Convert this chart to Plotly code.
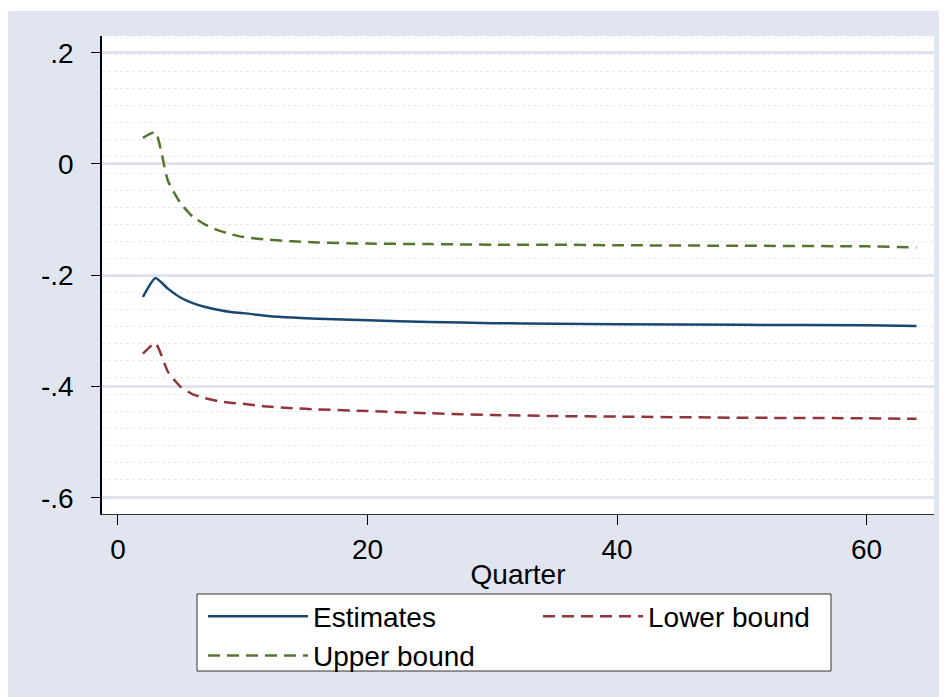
import plotly.graph_objects as go

quarter = [2, 3, 4, 5, 6, 7, 8, 9, 10, 12, 14, 16, 20, 25, 30, 35, 40, 50, 60, 64]
estimates = [-0.239, -0.205, -0.224, -0.240, -0.250, -0.257, -0.262, -0.266, -0.268, -0.273,
             -0.276, -0.278, -0.281, -0.284, -0.286, -0.287, -0.288, -0.289, -0.290, -0.291]
lower_bound = [-0.341, -0.322, -0.373, -0.400, -0.414, -0.421, -0.426, -0.429, -0.431, -0.436,
               -0.439, -0.441, -0.444, -0.448, -0.451, -0.453, -0.454, -0.456, -0.457, -0.458]
upper_bound = [0.047, 0.057, -0.030, -0.070, -0.095, -0.109, -0.119, -0.126, -0.131, -0.136,
               -0.139, -0.141, -0.143, -0.144, -0.145, -0.145, -0.146, -0.147, -0.148, -0.150]

x_ticks = [0, 20, 40, 60]
y_ticks = [0.2, 0, -0.2, -0.4, -0.6]
y_tick_text = [".2", "0", "-.2", "-.4", "-.6"]

FONT = "Liberation Sans, Arial, sans-serif"
BG = "#e0e5ef"
FS = 28

fig = go.Figure()
fig.add_trace(go.Scatter(x=quarter, y=estimates, mode="lines", name="Estimates",
                         line=dict(color="#1a476f", width=2.5, shape="spline", smoothing=0.5)))
fig.add_trace(go.Scatter(x=quarter, y=lower_bound, mode="lines", name="Lower bound",
                         line=dict(color="#90353b", width=2.5, dash="12px,7px",
                                   shape="spline", smoothing=0.5)))
fig.add_trace(go.Scatter(x=quarter, y=upper_bound, mode="lines", name="Upper bound",
                         line=dict(color="#55752f", width=2.5, dash="12px,7px",
                                   shape="spline", smoothing=0.5)))

fig.update_layout(
    width=947, height=697,
    margin=dict(l=94, r=21, t=28, b=191, autoexpand=False),
    paper_bgcolor="white", plot_bgcolor="white",
    font=dict(family=FONT, size=FS, color="black"),
    showlegend=True,
    legend=dict(
        orientation="h", x=0.1214, y=-0.162, xanchor="left", yanchor="top",
        bgcolor="rgba(0,0,0,0)", borderwidth=0,
        font=dict(family=FONT, size=FS), entrywidth=220, itemwidth=100,
        tracegroupgap=0,
    ),
    xaxis=dict(
        range=[-1.28, 65.4], tickvals=x_ticks, showgrid=False, zeroline=False,
        ticks="outside", ticklen=10, tickcolor="black", tickwidth=1,
        showline=True, linecolor="#333333", linewidth=1, automargin=False,
        title=dict(text="Quarter", standoff=0, font=dict(size=FS)),
        tickfont=dict(size=FS),
    ),
    yaxis=dict(
        range=[-0.629, 0.230], tickvals=y_ticks, ticktext=y_tick_text,
        showgrid=True, gridcolor="#dfe3ed", gridwidth=2.5, zeroline=False,
        ticks="outside", ticklen=9, tickcolor="black", tickwidth=1,
        showline=True, linecolor="black", linewidth=1.5, automargin=False,
        ticklabelstandoff=12, tickfont=dict(size=FS),
        minor=dict(tick0=0.0126, dtick=0.03055, showgrid=True, gridcolor="#e6e9f0",
                   griddash="dot", gridwidth=1, ticks=""),
    ),
    shapes=[
        # outer bluish-gray graph region
        dict(type="rect", xref="paper", yref="paper", x0=-0.113, x1=1.03, y0=-0.41, y1=1.0523,
             fillcolor=BG, line=dict(width=0), layer="below"),
        # white plot region
        dict(type="rect", xref="paper", yref="paper", x0=0, x1=1, y0=0, y1=1,
             fillcolor="white", line=dict(width=0), layer="below"),
        # legend box
        dict(type="rect", xref="paper", yref="paper", x0=0.1142, x1=0.8762, y0=-0.3285, y1=-0.1674,
             fillcolor="white", line=dict(width=1, color="#333333"), layer="below"),
    ],
)

fig.write_html("out.html")
